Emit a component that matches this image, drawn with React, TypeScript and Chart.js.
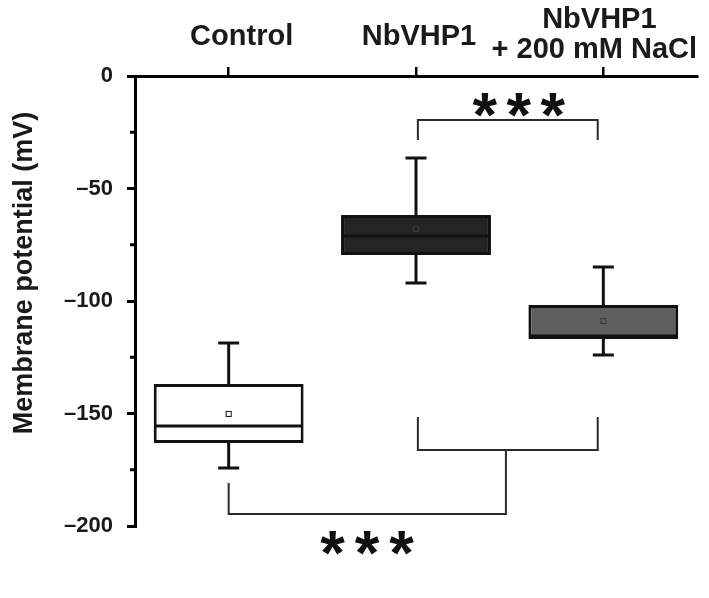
import React, { useEffect, useRef } from 'react';
import { Chart, registerables } from 'chart.js';

Chart.register(...registerables);

// ---- Data ----
const categories = ['Control', 'NbVHP1', 'NbVHP1 + 200 mM NaCl'];
const categoryLines = [['Control'], ['NbVHP1'], ['NbVHP1', '+ 200 mM NaCl']];
const whiskerHigh = [-118.7, -36.4, -84.9];
const q3 = [-136.9, -61.8, -101.8];
const median = [-155.6, -71.1, -115.6];
const mean = [-150.2, -68.0, -108.9];
const q1 = [-163.1, -79.6, -116.9];
const whiskerLow = [-174.2, -92.0, -124.0];
const yMajorTicks = [0, -50, -100, -150, -200];
const yMinorTicks = [-25, -75, -125, -175];
const yTitle = 'Membrane potential (mV)';
const sigLabel = '***';

const boxColors = ['#ffffff', '#242424', '#5f5f5f'];

const FONT = '"Liberation Sans", Arial, sans-serif';
const STAR_FONT = '"Liberation Sans", Arial, sans-serif';

function drawStars(ctx: CanvasRenderingContext2D, cx: number, cy: number, text: string, spacing: number, h: number) {
  ctx.font = `bold 100px ${STAR_FONT}`;
  const m = ctx.measureText('*');
  const gh = m.actualBoundingBoxAscent + m.actualBoundingBoxDescent;
  const size = (100 * h) / gh;
  ctx.font = `bold ${size}px ${STAR_FONT}`;
  const m2 = ctx.measureText('*');
  const baseline = cy + (m2.actualBoundingBoxAscent - m2.actualBoundingBoxDescent) / 2;
  const shift = (m2.actualBoundingBoxRight - m2.actualBoundingBoxLeft) / 2;
  ctx.textAlign = 'left';
  ctx.textBaseline = 'alphabetic';
  const chars = text.split('');
  chars.forEach((c, k) => {
    const x = cx + (k - (chars.length - 1) / 2) * spacing;
    ctx.fillText(c, x - shift, baseline);
  });
}

const extrasPlugin = {
  id: 'boxExtras',
  afterDatasetsDraw(chart: any) {
    const { ctx, scales } = chart;
    const x = scales.x;
    const y = scales.y;
    const meta = chart.getDatasetMeta(0);
    ctx.save();
    ctx.strokeStyle = '#111';
    ctx.lineCap = 'butt';
    categories.forEach((_, i) => {
      const bar = meta.data[i];
      const cx = x.getPixelForValue(i);
      const half = bar.width / 2;
      const capHalf = 10.5;
      ctx.lineWidth = 3;
      ctx.beginPath();
      ctx.moveTo(cx, y.getPixelForValue(q3[i]));
      ctx.lineTo(cx, y.getPixelForValue(whiskerHigh[i]));
      ctx.moveTo(cx - capHalf, y.getPixelForValue(whiskerHigh[i]));
      ctx.lineTo(cx + capHalf, y.getPixelForValue(whiskerHigh[i]));
      ctx.moveTo(cx, y.getPixelForValue(q1[i]));
      ctx.lineTo(cx, y.getPixelForValue(whiskerLow[i]));
      ctx.moveTo(cx - capHalf, y.getPixelForValue(whiskerLow[i]));
      ctx.lineTo(cx + capHalf, y.getPixelForValue(whiskerLow[i]));
      ctx.moveTo(bar.x - half + 1, y.getPixelForValue(median[i]));
      ctx.lineTo(bar.x + half - 1, y.getPixelForValue(median[i]));
      ctx.stroke();
      const my = y.getPixelForValue(mean[i]);
      ctx.lineWidth = 1;
      ctx.fillStyle = boxColors[i];
      ctx.strokeStyle = i === 0 ? '#111' : '#3a3a3a';
      ctx.fillRect(cx - 2.5, my - 2.5, 5, 5);
      ctx.strokeRect(cx - 2.5, my - 2.5, 5, 5);
      ctx.strokeStyle = '#111';
    });
    ctx.restore();
  },
  afterDraw(chart: any) {
    const { ctx, scales, chartArea } = chart;
    const x = scales.x;
    const y = scales.y;
    const px = (v: number) => x.getPixelForValue(v);
    const py = (v: number) => y.getPixelForValue(v);
    ctx.save();

    ctx.strokeStyle = '#000';
    ctx.lineWidth = 3;
    ctx.beginPath();
    yMinorTicks.forEach((v) => {
      ctx.moveTo(chartArea.left - 5, py(v));
      ctx.lineTo(chartArea.left, py(v));
    });
    ctx.stroke();

    ctx.strokeStyle = '#2b2b2b';
    ctx.lineWidth = 2;
    ctx.beginPath();
    ctx.moveTo(px(1.01), py(-28.4));
    ctx.lineTo(px(1.01), py(-19.6));
    ctx.lineTo(px(1.97), py(-19.6));
    ctx.lineTo(px(1.97), py(-28.4));
    ctx.moveTo(px(1.01), py(-151.6));
    ctx.lineTo(px(1.01), py(-166.2));
    ctx.lineTo(px(1.97), py(-166.2));
    ctx.lineTo(px(1.97), py(-151.6));
    ctx.moveTo(px(1.48), py(-166.2));
    ctx.lineTo(px(1.48), py(-194.7));
    ctx.lineTo(px(0.0), py(-194.7));
    ctx.lineTo(px(0.0), py(-180.9));
    ctx.stroke();

    ctx.fillStyle = '#111';
    drawStars(ctx, px(1.55), py(-12.7), sigLabel, 34, 24);
    drawStars(ctx, px(0.74), py(-207.6), sigLabel, 34.5, 24);

    const labelDx = [13, 3, -4];
    ctx.fillStyle = '#1a1a1a';
    ctx.font = `bold 29px ${FONT}`;
    ctx.textAlign = 'center';
    ctx.textBaseline = 'alphabetic';
    categoryLines.forEach((lines, i) => {
      const cx = px(i) + labelDx[i];
      const baseBottom = lines.length > 1 ? chartArea.top - 18 : chartArea.top - 31;
      lines.forEach((t, k) => {
        const yy = baseBottom - (lines.length - 1 - k) * 30;
        ctx.fillText(t, cx + (lines.length > 1 && k === 1 ? -5 : 0), yy);
      });
    });

    ctx.save();
    ctx.translate(32, chartArea.top + 197);
    ctx.rotate(-Math.PI / 2);
    ctx.font = `bold 27px ${FONT}`;
    ctx.fillStyle = '#1a1a1a';
    ctx.textAlign = 'center';
    ctx.textBaseline = 'alphabetic';
    ctx.fillText(yTitle, 0, 0);
    ctx.restore();

    ctx.restore();
  },
};

export default function App() {
  const canvasRef = useRef<HTMLCanvasElement | null>(null);

  useEffect(() => {
    document.body.style.margin = '0';
    const canvas = canvasRef.current;
    if (!canvas) return;
    const chart = new Chart(canvas, {
      type: 'bar',
      data: {
        labels: categories,
        datasets: [
          {
            data: q1.map((v, i) => [v, q3[i]]) as any,
            backgroundColor: boxColors,
            borderColor: '#111',
            borderWidth: 3,
            borderSkipped: false,
            barPercentage: 0.8,
            categoryPercentage: 1,
          },
        ],
      },
      options: {
        animation: false,
        responsive: false,
        maintainAspectRatio: false,
        devicePixelRatio: 1,
        layout: { padding: { left: 0, top: 0, right: 12, bottom: 72 } },
        plugins: {
          legend: { display: false },
          tooltip: { enabled: false },
          title: { display: false },
        },
        scales: {
          x: {
            type: 'category',
            position: 'top',
            offset: true,
            afterFit: (s: any) => {
              s.height = 76;
            },
            grid: {
              offset: false,
              drawOnChartArea: false,
              drawTicks: true,
              tickLength: 9,
              lineWidth: 2.5,
              color: '#000',
            },
            border: { display: true, width: 3, color: '#000' },
            ticks: { display: false },
          },
          y: {
            type: 'linear',
            min: -200,
            max: 0,
            afterFit: (s: any) => {
              s.width = 135;
            },
            afterBuildTicks: (s: any) => {
              s.ticks = yMajorTicks.map((v) => ({ value: v }));
            },
            grid: {
              drawOnChartArea: false,
              drawTicks: true,
              tickLength: 8,
              lineWidth: 3,
              color: '#000',
            },
            border: { display: true, width: 3, color: '#000' },
            ticks: {
              padding: 14,
              color: '#1a1a1a',
              font: { family: FONT, size: 22, weight: 'bold' },
              callback: (v: any) => (Number(v) < 0 ? '\u2013' + Math.abs(Number(v)) : String(v)),
            },
          },
        },
      },
      plugins: [extrasPlugin],
    } as any);
    return () => chart.destroy();
  }, []);

  return <canvas ref={canvasRef} width={709} height={598} style={{ display: 'block' }} />;
}
